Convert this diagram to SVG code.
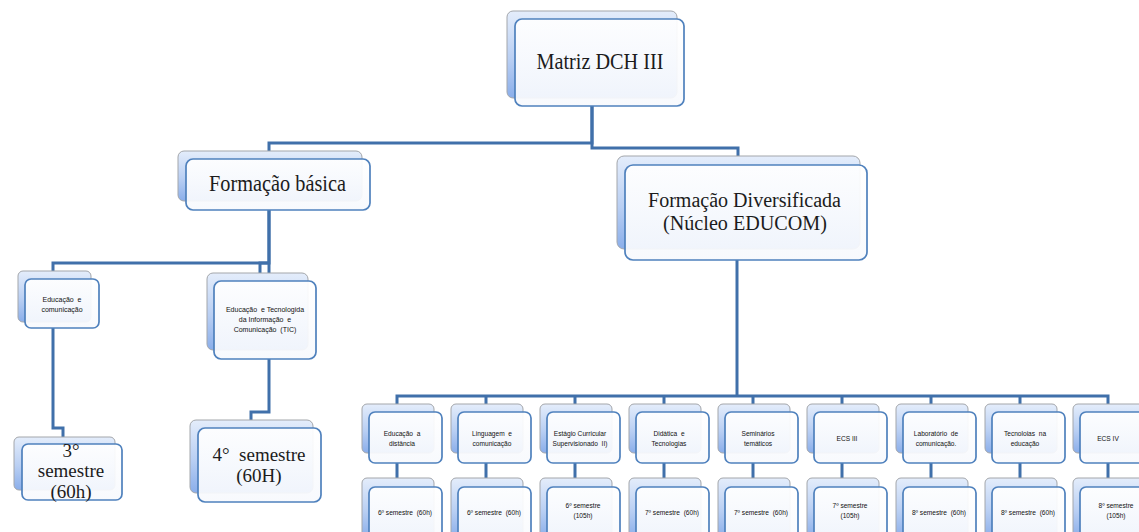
<svg xmlns="http://www.w3.org/2000/svg" width="1139" height="532" viewBox="0 0 1139 532">
  <defs>
    <linearGradient id="backFill" x1="0" y1="0" x2="0" y2="1">
      <stop offset="0" stop-color="#e4edfb"/>
      <stop offset="0.55" stop-color="#b9cff3"/>
      <stop offset="1" stop-color="#8aaeea"/>
    </linearGradient>
    <linearGradient id="frontFill" x1="0" y1="0" x2="0" y2="1">
      <stop offset="0" stop-color="#ffffff"/>
      <stop offset="1" stop-color="#f7f9fd"/>
    </linearGradient>
  </defs>
  <style>
    .back { fill: url(#backFill); stroke: #a3a6ab; stroke-width: 1; }
    .front { fill: url(#frontFill); fill-opacity: 0.93; stroke: #4f81bd; stroke-width: 1.7; }
    .wire { fill: none; stroke: #4070aa; stroke-width: 3; stroke-linejoin: miter; }
    .big { font-family: "Liberation Serif", "Times New Roman", serif; font-size: 24px; fill: #1c1c1c; text-anchor: middle; }
    .two { font-family: "Liberation Serif", "Times New Roman", serif; font-size: 20px; fill: #1c1c1c; text-anchor: middle; }
    .mid { font-family: "Liberation Serif", "Times New Roman", serif; font-size: 19px; fill: #1c1c1c; text-anchor: middle; }
    .sm { font-family: "Liberation Sans", Arial, sans-serif; font-size: 7px; fill: #111; text-anchor: middle; }
    .xs { font-family: "Liberation Sans", Arial, sans-serif; font-size: 6.6px; fill: #111; text-anchor: middle; }
  </style>

  <!-- connectors -->
  <g id="connectors">
    <path class="wire" d="M592,106 V143 H269 V151"/>
    <path class="wire" d="M592,106 V148 H738 V156"/>
    <path class="wire" d="M269,210 V263 H53 V271"/>
    <path class="wire" d="M269,210 V273"/>
    <path class="wire" d="M269,263 H260 V273"/>
    <path class="wire" d="M53,328 V428 H63 V437"/>
    <path class="wire" d="M269,359 V412 H251 V420"/>
    <path class="wire" d="M737,260 V396"/>
    <path class="wire" d="M397,404 V396 H1108 V404"/>
    <path class="wire" d="M486,396 V404 M575,396 V404 M664,396 V404 M753,396 V404 M842,396 V404 M931,396 V404 M1020,396 V404"/>
    <path class="wire" d="M397,463 V478 M486,463 V478 M575,463 V478 M664,463 V478 M753,463 V478 M842,463 V478 M931,463 V478 M1020,463 V478 M1108,463 V478"/>
  </g>

  <!-- top level -->
  <g id="matriz">
    <rect class="back" x="507" y="11" width="170" height="87" rx="6"/>
    <rect class="front" x="515" y="19" width="169" height="87" rx="7"/>
    <text class="big" x="600" y="69" textLength="127" lengthAdjust="spacingAndGlyphs">Matriz DCH III</text>
  </g>

  <g id="formacao-basica">
    <rect class="back" x="178" y="151" width="184" height="50" rx="6"/>
    <rect class="front" x="186" y="159" width="184" height="51" rx="7"/>
    <text class="big" x="277.5" y="191" textLength="137" lengthAdjust="spacingAndGlyphs">Formação básica</text>
  </g>

  <g id="formacao-diversificada">
    <rect class="back" x="617" y="156" width="243" height="93" rx="7"/>
    <rect class="front" x="625" y="165" width="242" height="95" rx="8"/>
    <text class="two" x="744.5" y="207" textLength="193" lengthAdjust="spacingAndGlyphs">Formação Diversificada</text>
    <text class="two" x="745" y="230" textLength="164" lengthAdjust="spacingAndGlyphs">(Núcleo EDUCOM)</text>
  </g>

  <!-- basic track -->
  <g id="educacao-comunicacao">
    <rect class="back" x="18" y="271" width="73" height="51" rx="5"/>
    <rect class="front" x="25" y="279" width="74" height="49" rx="6"/>
    <text class="sm" x="62" y="302" xml:space="preserve">Educação  e</text>
    <text class="sm" x="62" y="312">comunicação</text>
  </g>

  <g id="educacao-tic">
    <rect class="back" x="207" y="273" width="101" height="77" rx="6"/>
    <rect class="front" x="214" y="281" width="102" height="78" rx="7"/>
    <text class="sm" x="265" y="312" xml:space="preserve">Educação  e Tecnologida</text>
    <text class="sm" x="265" y="322" xml:space="preserve">da Informação  e</text>
    <text class="sm" x="265" y="332" xml:space="preserve">Comunicação  (TIC)</text>
  </g>

  <g id="terceiro-semestre">
    <rect class="back" x="14" y="437" width="101" height="53" rx="5"/>
    <rect class="front" x="22" y="444" width="100" height="56" rx="6"/>
    <text class="mid" x="71" y="457">3°</text>
    <text class="mid" x="71" y="477">semestre</text>
    <text class="mid" x="71" y="498">(60h)</text>
  </g>

  <g id="quarto-semestre">
    <rect class="back" x="190" y="420" width="123" height="73" rx="6"/>
    <rect class="front" x="198" y="428" width="123" height="74" rx="7"/>
    <text class="mid" x="259" y="461" xml:space="preserve">4°  semestre</text>
    <text class="mid" x="259" y="482">(60H)</text>
  </g>

  <!-- EDUCOM subjects -->
  <g id="ead">
    <rect class="back" x="362" y="404" width="72" height="49" rx="5"/>
    <rect class="front" x="369" y="412" width="73" height="51" rx="6"/>
    <text class="xs" x="402" y="436" xml:space="preserve">Educação  a</text>
    <text class="xs" x="402" y="446">distância</text>
  </g>
  <g id="linguagem">
    <rect class="back" x="451" y="404" width="72" height="49" rx="5"/>
    <rect class="front" x="458" y="412" width="73" height="51" rx="6"/>
    <text class="xs" x="492" y="436" xml:space="preserve">Linguagem  e</text>
    <text class="xs" x="492" y="446">comunicação</text>
  </g>
  <g id="estagio">
    <rect class="back" x="540" y="404" width="72" height="49" rx="5"/>
    <rect class="front" x="547" y="412" width="73" height="51" rx="6"/>
    <text class="xs" x="580" y="436">Estágio Curricular</text>
    <text class="xs" x="580" y="446" xml:space="preserve">Supervisionado  II)</text>
  </g>
  <g id="didatica">
    <rect class="back" x="629" y="404" width="72" height="49" rx="5"/>
    <rect class="front" x="636" y="412" width="73" height="51" rx="6"/>
    <text class="xs" x="669" y="436" xml:space="preserve">Didática  e</text>
    <text class="xs" x="669" y="446">Tecnologias</text>
  </g>
  <g id="seminarios">
    <rect class="back" x="718" y="404" width="72" height="49" rx="5"/>
    <rect class="front" x="725" y="412" width="73" height="51" rx="6"/>
    <text class="xs" x="758" y="436">Seminários</text>
    <text class="xs" x="758" y="446">temáticos</text>
  </g>
  <g id="ecs-iii">
    <rect class="back" x="807" y="404" width="72" height="49" rx="5"/>
    <rect class="front" x="814" y="412" width="73" height="51" rx="6"/>
    <text class="xs" x="847" y="441">ECS III</text>
  </g>
  <g id="laboratorio">
    <rect class="back" x="896" y="404" width="72" height="49" rx="5"/>
    <rect class="front" x="903" y="412" width="73" height="51" rx="6"/>
    <text class="xs" x="936" y="436" xml:space="preserve">Laboratório  de</text>
    <text class="xs" x="936" y="446">comunicação.</text>
  </g>
  <g id="tecnologias">
    <rect class="back" x="985" y="404" width="72" height="49" rx="5"/>
    <rect class="front" x="992" y="412" width="73" height="51" rx="6"/>
    <text class="xs" x="1025" y="436" xml:space="preserve">Tecnoloias  na</text>
    <text class="xs" x="1025" y="446">educação</text>
  </g>
  <g id="ecs-iv">
    <rect class="back" x="1073" y="404" width="72" height="49" rx="5"/>
    <rect class="front" x="1080" y="412" width="73" height="51" rx="6"/>
    <text class="xs" x="1108" y="441">ECS IV</text>
  </g>

  <!-- semester boxes -->
  <g id="sem-ead">
    <rect class="back" x="362" y="478" width="72" height="60" rx="5"/>
    <rect class="front" x="369" y="487" width="73" height="60" rx="6"/>
    <text class="xs" x="405" y="515" xml:space="preserve">6º semestre  (60h)</text>
  </g>
  <g id="sem-linguagem">
    <rect class="back" x="451" y="478" width="72" height="60" rx="5"/>
    <rect class="front" x="458" y="487" width="73" height="60" rx="6"/>
    <text class="xs" x="494" y="515" xml:space="preserve">6º semestre  (60h)</text>
  </g>
  <g id="sem-estagio">
    <rect class="back" x="540" y="478" width="72" height="60" rx="5"/>
    <rect class="front" x="547" y="487" width="73" height="60" rx="6"/>
    <text class="xs" x="583" y="508">6º semestre</text>
    <text class="xs" x="583" y="518">(105h)</text>
  </g>
  <g id="sem-didatica">
    <rect class="back" x="629" y="478" width="72" height="60" rx="5"/>
    <rect class="front" x="636" y="487" width="73" height="60" rx="6"/>
    <text class="xs" x="672" y="515" xml:space="preserve">7º semestre  (60h)</text>
  </g>
  <g id="sem-seminarios">
    <rect class="back" x="718" y="478" width="72" height="60" rx="5"/>
    <rect class="front" x="725" y="487" width="73" height="60" rx="6"/>
    <text class="xs" x="761" y="515" xml:space="preserve">7º semestre  (60h)</text>
  </g>
  <g id="sem-ecs-iii">
    <rect class="back" x="807" y="478" width="72" height="60" rx="5"/>
    <rect class="front" x="814" y="487" width="73" height="60" rx="6"/>
    <text class="xs" x="850" y="508">7º semestre</text>
    <text class="xs" x="850" y="518">(105h)</text>
  </g>
  <g id="sem-laboratorio">
    <rect class="back" x="896" y="478" width="72" height="60" rx="5"/>
    <rect class="front" x="903" y="487" width="73" height="60" rx="6"/>
    <text class="xs" x="939" y="515" xml:space="preserve">8º semestre  (60h)</text>
  </g>
  <g id="sem-tecnologias">
    <rect class="back" x="985" y="478" width="72" height="60" rx="5"/>
    <rect class="front" x="992" y="487" width="73" height="60" rx="6"/>
    <text class="xs" x="1028" y="515" xml:space="preserve">8º semestre  (60h)</text>
  </g>
  <g id="sem-ecs-iv">
    <rect class="back" x="1073" y="478" width="72" height="60" rx="5"/>
    <rect class="front" x="1080" y="487" width="73" height="60" rx="6"/>
    <text class="xs" x="1116" y="508">8º semestre</text>
    <text class="xs" x="1116" y="518">(105h)</text>
  </g>
</svg>
